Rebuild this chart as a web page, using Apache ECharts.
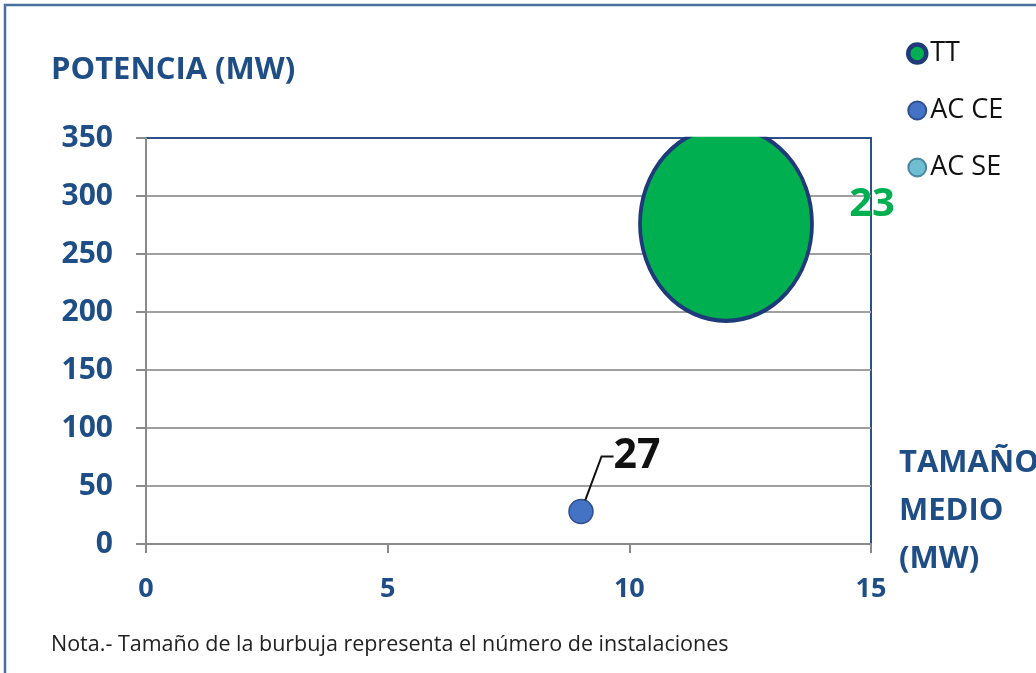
<!DOCTYPE html>
<html><head><meta charset="utf-8">
<script src="https://cdn.jsdelivr.net/npm/echarts@6/dist/echarts.min.js"></script>
<style>html,body{margin:0;padding:0;background:#fff}#c{width:1036px;height:673px}</style>
</head><body><div id="c"></div>
<script>
// ---- data ----
const seriesNames = ['TT', 'AC CE', 'AC SE'];
const ttTamanoMedio = [12];
const ttPotencia = [276];
const ttInstalaciones = [23];
const acceTamanoMedio = [9];
const accePotencia = [28];
const acceInstalaciones = [27];
const acseTamanoMedio = [];
const acsePotencia = [];
const xTicks = [0, 5, 10, 15];
const yTicks = [0, 50, 100, 150, 200, 250, 300, 350];
const yAxisTitle = 'POTENCIA (MW)';
const xAxisTitle = 'TAMAÑO\nMEDIO\n(MW)';
const noteText = 'Nota.- Tamaño de la burbuja representa el número de instalaciones';

const FONT = '"Open Sans", sans-serif';
const BLUE = '#1f4e87';
const GREEN = '#00b050';

function pts(xs, ys, ns) { return xs.map((x, i) => ({ value: [x, ys[i]], n: ns ? ns[i] : null })); }

const GRID = { left: 146, top: 138, width: 725, height: 406 };

const chart = echarts.init(document.getElementById('c'), null, { renderer: 'canvas' });
chart.setOption({
  animation: false,
  backgroundColor: '#fff',
  textStyle: { fontFamily: FONT },
  graphic: [
    { // outer frame (left + top edges visible)
      type: 'polyline', silent: true, zlevel: 1, z: 100,
      shape: { points: [[5, 700], [5, 5], [1040, 5]] },
      style: { stroke: '#4a6f9c', lineWidth: 2.5, fill: null }
    },
    { // plot-area clipping: hide anything drawn above the plot top
      type: 'rect', silent: true, zlevel: 1, z: 50,
      shape: { x: GRID.left + 1, y: 92, width: GRID.width - 2, height: GRID.top - 92 - 1.2 },
      style: { fill: '#fff' }
    }
  ],
  title: [
    { text: yAxisTitle, left: 46, top: 50,
      textStyle: { fontFamily: FONT, fontSize: 31, fontWeight: 'bold', color: BLUE } },
    { text: xAxisTitle, left: 894, top: 434,
      textStyle: { fontFamily: FONT, fontSize: 31, fontWeight: 'bold', color: BLUE, lineHeight: 48 } },
    { text: noteText, left: 46, top: 629,
      textStyle: { fontFamily: FONT, fontSize: 21.5, fontWeight: 'normal', color: '#222' } }
  ],
  legend: {
    orient: 'vertical', left: 901, top: 35,
    itemWidth: 18, itemHeight: 18, itemGap: 30,
    icon: 'circle',
    data: [
      { name: seriesNames[0], itemStyle: { borderWidth: 4.5, borderColor: '#1f3a7a' } },
      { name: seriesNames[1] },
      { name: seriesNames[2] }
    ],
    textStyle: { fontFamily: FONT, fontSize: 27, color: '#111', lineHeight: 26, padding: [0, 0, 0, -1] }
  },
  grid: Object.assign({}, GRID, {
    show: true, borderColor: '#2d4f8a', borderWidth: 2, backgroundColor: 'transparent'
  }),
  xAxis: {
    type: 'value', min: xTicks[0], max: xTicks[xTicks.length - 1], interval: xTicks[1] - xTicks[0],
    axisLine: { show: true, onZero: false, lineStyle: { color: '#8a8a8a', width: 2 } },
    axisTick: { show: true, length: 9, lineStyle: { color: '#8a8a8a', width: 2 } },
    splitLine: { show: false },
    axisLabel: { margin: 32, fontFamily: FONT, fontSize: 27, fontWeight: 'bold', color: BLUE }
  },
  yAxis: {
    type: 'value', min: yTicks[0], max: yTicks[yTicks.length - 1], interval: yTicks[1] - yTicks[0],
    axisLine: { show: true, onZero: false, lineStyle: { color: '#8a8a8a', width: 2 } },
    axisTick: { show: true, length: 10, lineStyle: { color: '#8a8a8a', width: 2 } },
    splitLine: { show: true, showMaxLine: false, showMinLine: false, lineStyle: { color: '#a0a0a0', width: 2 } },
    axisLabel: { margin: 33, fontFamily: FONT, fontSize: 30, fontWeight: 'bold', color: BLUE }
  },
  series: [
    {
      name: seriesNames[0], type: 'scatter', z: 3,
      data: pts(ttTamanoMedio, ttPotencia, ttInstalaciones),
      symbol: 'circle', symbolSize: [172, 194],
      itemStyle: { color: GREEN, borderColor: '#1f3a7a', borderWidth: 4, opacity: 1 },
      label: {
        show: true, position: 'inside', offset: [146, -19],
        formatter: p => String(p.data.n),
        fontFamily: FONT, fontSize: 40, fontWeight: 'bold', color: GREEN
      }
    },
    {
      name: seriesNames[1], type: 'scatter', z: 4,
      data: pts(acceTamanoMedio, accePotencia, acceInstalaciones),
      symbol: 'circle', symbolSize: 24,
      itemStyle: { color: '#4472c4', borderColor: '#2f4f8f', borderWidth: 1.5, opacity: 1 },
      label: {
        show: true, position: 'inside',
        formatter: p => String(p.data.n),
        fontFamily: FONT, fontSize: 41, fontWeight: 'bold', color: '#111'
      },
      labelLayout: { dx: 56, dy: -55 },
      labelLine: { show: true, showAbove: true, length2: 12, lineStyle: { color: '#111', width: 2 } }
    },
    {
      name: seriesNames[2], type: 'scatter',
      data: pts(acseTamanoMedio, acsePotencia, null),
      symbol: 'circle', symbolSize: 20,
      itemStyle: { color: '#4bacc6', borderColor: '#2f6f8f', borderWidth: 1.5 }
    }
  ]
});
</script>
</body></html>
